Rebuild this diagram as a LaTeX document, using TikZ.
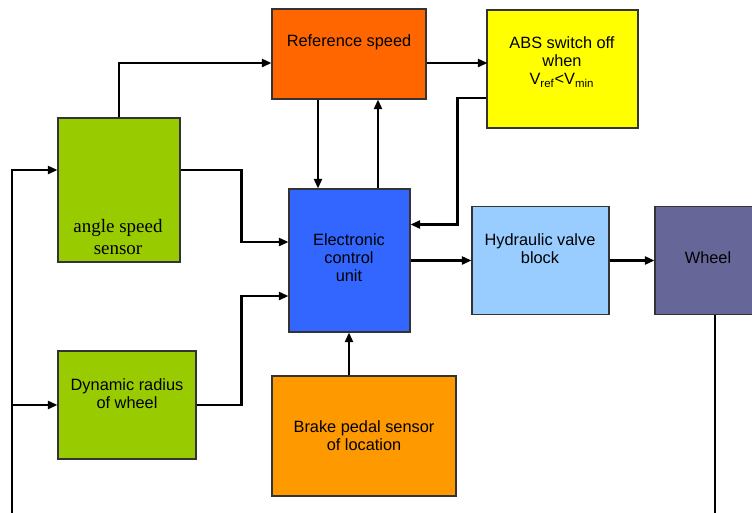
\documentclass[tikz,border=0pt]{standalone}
\usepackage{fontspec}
\setmainfont{Liberation Sans}
\newfontfamily\sensorfont{Liberation Serif}
\usetikzlibrary{calc,arrows.meta}
\definecolor{refcol}{HTML}{FF6600}
\definecolor{abscol}{HTML}{FFFF00}
\definecolor{sensorcol}{HTML}{99CC00}
\definecolor{ecucol}{HTML}{3366FF}
\definecolor{valvecol}{HTML}{99CCFF}
\definecolor{wheelcol}{HTML}{666699}
\definecolor{pedalcol}{HTML}{FF9900}

\begin{document}
\begin{tikzpicture}[x=0.02cm,y=-0.02cm,
		blk/.style={draw=black!80,line width=0.6pt,inner sep=0pt},
		txt/.style={align=center,inner sep=0pt,font=\fontsize{9.3}{10.2}\selectfont},
		conn/.style={line width=1.25pt,-{Triangle[length=5.5pt,width=4.6pt]}}]
	\clip (0,0) rectangle (752,512);

	\node[blk,fill=refcol,minimum width=3.08cm,minimum height=1.8cm] (ref) at (349,54) {};
	\node[blk,fill=abscol,minimum width=3.02cm,minimum height=2.36cm] (abs) at (562.5,69) {};
	\node[blk,fill=sensorcol,minimum width=2.44cm,minimum height=2.88cm] (angle) at (119,190) {};
	\node[blk,fill=ecucol,minimum width=2.42cm,minimum height=2.86cm] (ecu) at (349.5,260.5) {};
	\node[blk,fill=valvecol,minimum width=2.74cm,minimum height=2.16cm] (valve) at (540.5,260.5) {};
	\node[blk,fill=wheelcol,minimum width=2.12cm,minimum height=2.16cm] (wheel) at (708,260.5) {};
	\node[blk,fill=sensorcol,minimum width=2.76cm,minimum height=2.16cm] (radius) at (127,405) {};
	\node[blk,fill=pedalcol,minimum width=3.68cm,minimum height=2.4cm] (pedal) at (364,436) {};

	\node[txt] (reftxt) at (349,42) {Reference speed};
	\node[txt] (abstxt) at (562,62) {ABS switch off\\when\\V\textsubscript{ref}<V\textsubscript{min}};
	\node[txt,font=\sensorfont\fontsize{10.8}{12}\selectfont] (angletxt) at (118,237) {angle speed\\sensor};
	\node[txt] (ecutxt) at (349,258) {Electronic\\control\\unit};
	\node[txt] (valvetxt) at (540,249) {Hydraulic valve\\block};
	\node[txt] (wheeltxt) at (708,258) {Wheel};
	\node[txt] (radiustxt) at (127,394) {Dynamic radius\\of wheel};
	\node[txt] (pedaltxt) at (364,436) {Brake pedal sensor\\of location};

	\draw[conn] (angle.north) |- ($(ref.west)+(0,9)$);
	\draw[conn] ($(ref.east)+(0,9)$) -- ++(61,0);
	\draw[conn] ($(abs.west)+(0,29)$) -- ++(-29,0) |- ($(ecu.east)+(0,-36)$);
	\draw[conn] ($(ref.south)+(-31,0)$) coordinate (p) -- (p |- ecu.north);
	\draw[conn] ($(ecu.north)+(28.5,0)$) coordinate (q) -- (q |- ref.south);
	\draw[conn] ($(angle.east)+(0,-20)$) -- ++(61,0) |- ($(ecu.west)+(0,-18.5)$);
	\draw[conn] (radius.east) -- ++(45,0) |- ($(ecu.west)+(0,35.5)$);
	\draw[conn] ($(pedal.north)+(-15,0)$) coordinate (r) -- (r |- ecu.south);
	\draw[conn] (ecu.east) -- (valve.west);
	\draw[conn] (valve.east) -- (wheel.west);

	\coordinate (fb) at (12,530);
	\draw[line width=1.25pt] ($(wheel.south)+(7,0)$) -- ++(0,200);
	\draw[conn] (fb) |- ($(angle.west)+(0,-20)$);
	\draw[conn] (fb |- radius.west) -- (radius.west);
\end{tikzpicture}
\end{document}
